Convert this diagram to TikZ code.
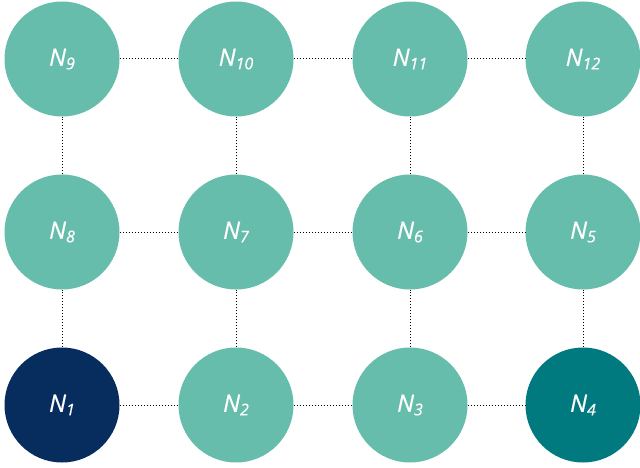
\documentclass[tikz,border=0pt]{standalone}
\usepackage{fontspec}
\setmainfont{Open Sans}[ItalicFeatures={FakeBold=0.6}]
\definecolor{lightteal}{HTML}{66BDAB}
\definecolor{navy}{HTML}{062D5E}
\definecolor{darkteal}{HTML}{007A7E}
\newcommand{\nlab}[1]{N\raisebox{-3.5pt}{\fontsize{16}{18}\selectfont #1}}
\begin{document}
\begin{tikzpicture}[x=1pt,y=-1pt,
  nd/.style={circle,fill=lightteal,minimum size=115pt,inner sep=0pt,text=white,font=\fontsize{24}{26}\selectfont\itshape},
  link/.style={draw=black,line width=1pt,dotted}]
\useasboundingbox (0,0) rectangle (640,468);
\node[nd,fill=navy] (n1) at (62,405) {\nlab{1}};
\node[nd] (n2) at (236,405) {\nlab{2}};
\node[nd] (n3) at (410,405) {\nlab{3}};
\node[nd,fill=darkteal] (n4) at (583,405) {\nlab{4}};
\node[nd] (n8) at (62,232) {\nlab{8}};
\node[nd] (n7) at (236,232) {\nlab{7}};
\node[nd] (n6) at (410,232) {\nlab{6}};
\node[nd] (n5) at (583,232) {\nlab{5}};
\node[nd] (n9) at (62,59) {\nlab{9}};
\node[nd] (n10) at (236,59) {\nlab{10}};
\node[nd] (n11) at (410,59) {\nlab{11}};
\node[nd] (n12) at (583,59) {\nlab{12}};
\foreach \a/\b in {n1/n2,n2/n3,n3/n4,n8/n7,n7/n6,n6/n5,n9/n10,n10/n11,n11/n12,
  n1/n8,n8/n9,n2/n7,n7/n10,n3/n6,n6/n11,n4/n5,n5/n12}
  \draw[link] (\a) -- (\b);
\end{tikzpicture}
\end{document}
